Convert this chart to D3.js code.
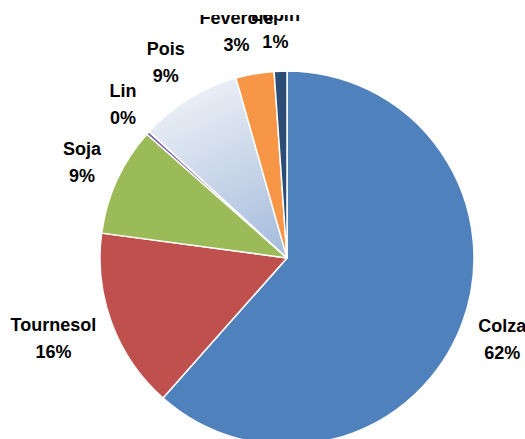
<!DOCTYPE html>
<html>
<head>
<meta charset="utf-8">
<script src="https://cdn.jsdelivr.net/npm/d3@7"></script>
<style>
  html, body { margin: 0; padding: 0; background: #fff; }
  svg { display: block; }
</style>
</head>
<body>
<div id="chart"></div>
<script>
// cultures et parts (%)
var categories = ["Colza", "Tournesol", "Soja", "Lin", "Pois", "Féverole", "Lupin"];
var values = [61.6, 15.6, 9.4, 0.3, 8.8, 3.3, 1.1];
var colors = ["#4F81BD", "#C0504D", "#9BBB59", "#8064A2", "url(#poisGrad)", "#F79646", "#2C4D75"];

var width = 525, height = 439;
var cx = 287, cy = 258, radius = 187;

var svg = d3.select("#chart").append("svg")
  .attr("width", width)
  .attr("height", height);

var defs = svg.append("defs");
// dégradé du secteur Pois (coordonnées relatives au centre)
var grad = defs.append("linearGradient")
  .attr("id", "poisGrad")
  .attr("gradientUnits", "userSpaceOnUse")
  .attr("x1", -130).attr("y1", -radius)
  .attr("x2", -40).attr("y2", 0);
grad.append("stop").attr("offset", "0%").attr("stop-color", "#f7f8fb");
grad.append("stop").attr("offset", "100%").attr("stop-color", "#a9bfdd");

// zone de tracé : le texte du haut est coupé
defs.append("clipPath").attr("id", "plotClip")
  .append("rect").attr("x", 0).attr("y", 15).attr("width", width).attr("height", height - 15);

var data = categories.map(function(c, i) { return { name: c, value: values[i], color: colors[i] }; });
var total = d3.sum(values);

var pie = d3.pie().sort(null).value(function(d) { return d.value; });
var arcs = pie(data);

var arc = d3.arc().innerRadius(0).outerRadius(radius);

var g = svg.append("g").attr("transform", "translate(" + cx + "," + cy + ")");

g.selectAll("path")
  .data(arcs)
  .join("path")
  .attr("d", arc)
  .attr("fill", function(d) { return d.data.color; })
  .attr("stroke", "#fff")
  .attr("stroke-width", 1.5)
  .attr("stroke-linejoin", "round");

// étiquettes : position de type Excel (bord de la boite à l'extérieur)
var fontSize = 18, lineGap = 27;
var labelR = 205;
var fmt = function(v) { return Math.round(v / total * 100) + "%"; };

var labels = svg.append("g")
  .attr("clip-path", "url(#plotClip)")
  .style("font-family", "'Liberation Sans', Arial, sans-serif")
  .style("font-weight", "bold")
  .style("font-size", fontSize + "px")
  .attr("fill", "#000");

arcs.forEach(function(d) {
  var a = (d.startAngle + d.endAngle) / 2;
  var sx = Math.sin(a), sy = -Math.cos(a);
  var t = labels.append("text").attr("text-anchor", "middle");
  t.append("tspan").attr("x", 0).attr("dy", 0).text(d.data.name);
  t.append("tspan").attr("x", 0).attr("dy", lineGap).text(fmt(d.data.value));
  var bb = t.node().getBBox();
  var hw = bb.width / 2, hh = 25;
  var px = cx + labelR * sx + hw * Math.sign(sx) * Math.sqrt(Math.abs(sx));
  var py = cy + labelR * sy + hh * sy;
  // centre vertical de la boite
  var ty = py - (bb.y + bb.height / 2);
  t.attr("transform", "translate(" + px + "," + ty + ")");
});
</script>
</body>
</html>
